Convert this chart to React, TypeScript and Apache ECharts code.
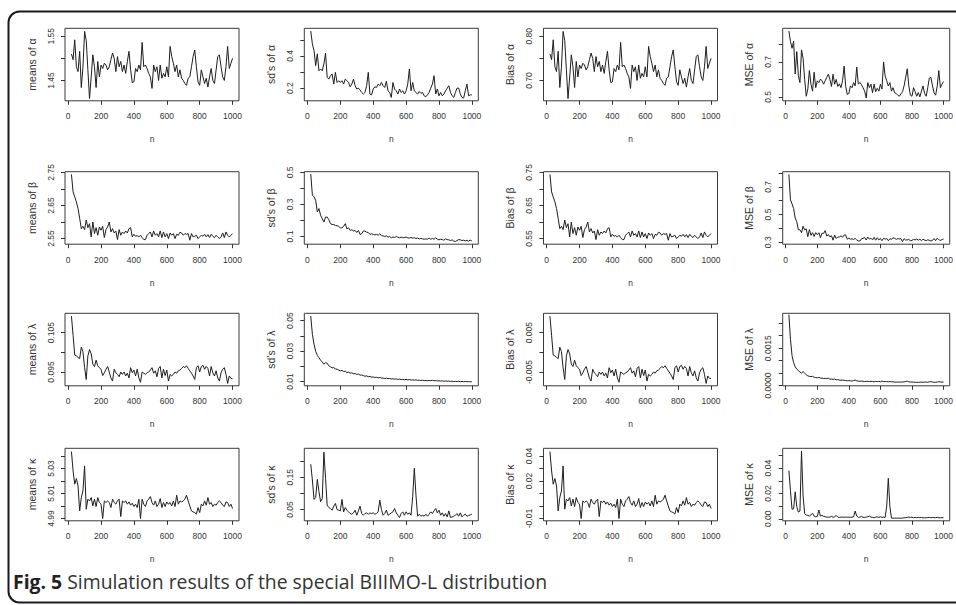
import React, { useEffect, useRef } from 'react';
import * as echarts from 'echarts';

const nValues = [20, 30, 40, 50, 60, 70, 80, 90, 100, 110, 120, 130, 140, 150, 160, 170, 180, 190, 200, 210, 220, 230, 240, 250, 260, 270, 280, 290, 300, 310, 320, 330, 340, 350, 360, 370, 380, 390, 400, 410, 420, 430, 440, 450, 460, 470, 480, 490, 500, 510, 520, 530, 540, 550, 560, 570, 580, 590, 600, 610, 620, 630, 640, 650, 660, 670, 680, 690, 700, 710, 720, 730, 740, 750, 760, 770, 780, 790, 800, 810, 820, 830, 840, 850, 860, 870, 880, 890, 900, 910, 920, 930, 940, 950, 960, 970, 980, 990, 1000];

const xTicks = [0, 200, 400, 600, 800, 1000];

const meansAlpha = [1.510, 1.497, 1.542, 1.481, 1.470, 1.516, 1.434, 1.480, 1.561, 1.540,
  1.474, 1.409, 1.458, 1.508, 1.481, 1.434, 1.493, 1.458, 1.485, 1.477,
  1.489, 1.485, 1.474, 1.481, 1.497, 1.512, 1.500, 1.470, 1.504, 1.481,
  1.493, 1.470, 1.485, 1.466, 1.493, 1.516, 1.474, 1.445, 1.447, 1.477,
  1.470, 1.485, 1.474, 1.536, 1.481, 1.485, 1.477, 1.466, 1.458, 1.432,
  1.485, 1.470, 1.481, 1.450, 1.485, 1.455, 1.466, 1.458, 1.481, 1.458,
  1.527, 1.504, 1.489, 1.470, 1.485, 1.458, 1.474, 1.455, 1.450, 1.443,
  1.439, 1.455, 1.458, 1.481, 1.504, 1.519, 1.481, 1.447, 1.439, 1.474,
  1.458, 1.443, 1.455, 1.435, 1.458, 1.477, 1.450, 1.443, 1.474, 1.504,
  1.508, 1.481, 1.458, 1.450, 1.481, 1.527, 1.477, 1.489, 1.500];

const sdAlpha = [0.555, 0.475, 0.433, 0.340, 0.413, 0.308, 0.319, 0.308, 0.350, 0.417,
  0.267, 0.256, 0.277, 0.288, 0.225, 0.298, 0.235, 0.246, 0.235, 0.246,
  0.225, 0.256, 0.246, 0.235, 0.208, 0.225, 0.256, 0.215, 0.194, 0.200,
  0.188, 0.173, 0.163, 0.173, 0.215, 0.298, 0.163, 0.158, 0.194, 0.208,
  0.204, 0.225, 0.215, 0.235, 0.215, 0.204, 0.242, 0.183, 0.173, 0.142,
  0.235, 0.194, 0.183, 0.163, 0.194, 0.173, 0.183, 0.163, 0.183, 0.225,
  0.319, 0.183, 0.235, 0.183, 0.173, 0.163, 0.179, 0.167, 0.173, 0.152,
  0.146, 0.158, 0.173, 0.200, 0.225, 0.277, 0.163, 0.194, 0.152, 0.173,
  0.152, 0.163, 0.183, 0.200, 0.215, 0.173, 0.152, 0.142, 0.173, 0.200,
  0.200, 0.163, 0.142, 0.138, 0.183, 0.225, 0.152, 0.158, 0.158];

const biasAlpha = [0.760, 0.747, 0.792, 0.731, 0.720, 0.766, 0.684, 0.730, 0.811, 0.790,
  0.724, 0.659, 0.708, 0.758, 0.731, 0.684, 0.743, 0.708, 0.735, 0.727,
  0.739, 0.735, 0.724, 0.731, 0.747, 0.762, 0.750, 0.720, 0.754, 0.731,
  0.743, 0.720, 0.735, 0.716, 0.743, 0.766, 0.724, 0.695, 0.697, 0.727,
  0.720, 0.735, 0.724, 0.786, 0.731, 0.735, 0.727, 0.716, 0.708, 0.682,
  0.735, 0.720, 0.731, 0.700, 0.735, 0.705, 0.716, 0.708, 0.731, 0.708,
  0.777, 0.754, 0.739, 0.720, 0.735, 0.708, 0.724, 0.705, 0.700, 0.693,
  0.689, 0.705, 0.708, 0.731, 0.754, 0.769, 0.731, 0.697, 0.689, 0.724,
  0.708, 0.693, 0.705, 0.685, 0.708, 0.727, 0.700, 0.693, 0.724, 0.754,
  0.758, 0.731, 0.708, 0.700, 0.731, 0.777, 0.727, 0.739, 0.750];

const mseAlpha = [0.876, 0.818, 0.778, 0.818, 0.631, 0.759, 0.622, 0.582, 0.769, 0.720,
  0.600, 0.504, 0.545, 0.651, 0.573, 0.533, 0.641, 0.553, 0.592, 0.582,
  0.602, 0.592, 0.573, 0.592, 0.612, 0.630, 0.600, 0.560, 0.630, 0.573,
  0.600, 0.560, 0.575, 0.553, 0.592, 0.676, 0.560, 0.514, 0.520, 0.563,
  0.553, 0.582, 0.563, 0.671, 0.573, 0.582, 0.570, 0.553, 0.533, 0.494,
  0.582, 0.553, 0.573, 0.524, 0.573, 0.530, 0.549, 0.533, 0.573, 0.545,
  0.700, 0.620, 0.592, 0.563, 0.582, 0.533, 0.553, 0.524, 0.520, 0.510,
  0.504, 0.518, 0.530, 0.563, 0.612, 0.661, 0.563, 0.510, 0.504, 0.553,
  0.530, 0.504, 0.525, 0.500, 0.533, 0.563, 0.520, 0.504, 0.553, 0.608,
  0.612, 0.563, 0.524, 0.510, 0.563, 0.651, 0.553, 0.573, 0.588];

const meansBeta = [2.744, 2.691, 2.676, 2.661, 2.641, 2.611, 2.580, 2.587, 2.577, 2.606,
  2.583, 2.595, 2.555, 2.600, 2.565, 2.583, 2.560, 2.585, 2.575, 2.587,
  2.553, 2.577, 2.585, 2.600, 2.570, 2.580, 2.567, 2.573, 2.547, 2.577,
  2.560, 2.570, 2.565, 2.573, 2.567, 2.580, 2.583, 2.555, 2.563, 2.557,
  2.559, 2.555, 2.560, 2.553, 2.547, 2.547, 2.560, 2.565, 2.570, 2.555,
  2.573, 2.560, 2.565, 2.555, 2.573, 2.553, 2.570, 2.555, 2.565, 2.550,
  2.567, 2.560, 2.565, 2.550, 2.563, 2.560, 2.569, 2.567, 2.560, 2.565,
  2.563, 2.565, 2.545, 2.565, 2.555, 2.557, 2.560, 2.550, 2.555, 2.560,
  2.557, 2.563, 2.555, 2.562, 2.553, 2.563, 2.557, 2.553, 2.560, 2.555,
  2.550, 2.555, 2.567, 2.553, 2.570, 2.560, 2.555, 2.560, 2.565];

const sdBeta = [0.490, 0.358, 0.347, 0.326, 0.253, 0.274, 0.232, 0.211, 0.190, 0.221,
  0.221, 0.205, 0.180, 0.175, 0.175, 0.169, 0.167, 0.163, 0.154, 0.154,
  0.163, 0.180, 0.148, 0.154, 0.138, 0.142, 0.134, 0.138, 0.125, 0.138,
  0.113, 0.117, 0.134, 0.134, 0.127, 0.125, 0.113, 0.117, 0.113, 0.110,
  0.113, 0.108, 0.117, 0.106, 0.104, 0.100, 0.104, 0.096, 0.100, 0.092,
  0.096, 0.094, 0.100, 0.096, 0.092, 0.096, 0.092, 0.094, 0.096, 0.092,
  0.090, 0.094, 0.090, 0.092, 0.088, 0.090, 0.085, 0.088, 0.085, 0.083,
  0.085, 0.083, 0.090, 0.083, 0.088, 0.083, 0.092, 0.083, 0.079, 0.083,
  0.081, 0.077, 0.085, 0.081, 0.079, 0.075, 0.079, 0.071, 0.069, 0.075,
  0.081, 0.079, 0.075, 0.077, 0.073, 0.075, 0.071, 0.077, 0.073];

const biasBeta = [0.744, 0.691, 0.676, 0.661, 0.641, 0.611, 0.580, 0.587, 0.577, 0.606,
  0.583, 0.595, 0.555, 0.600, 0.565, 0.583, 0.560, 0.585, 0.575, 0.587,
  0.553, 0.577, 0.585, 0.600, 0.570, 0.580, 0.567, 0.573, 0.547, 0.577,
  0.560, 0.570, 0.565, 0.573, 0.567, 0.580, 0.583, 0.555, 0.563, 0.557,
  0.559, 0.555, 0.560, 0.553, 0.547, 0.547, 0.560, 0.565, 0.570, 0.555,
  0.573, 0.560, 0.565, 0.555, 0.573, 0.553, 0.570, 0.555, 0.565, 0.550,
  0.567, 0.560, 0.565, 0.550, 0.563, 0.560, 0.569, 0.567, 0.560, 0.565,
  0.563, 0.565, 0.545, 0.565, 0.555, 0.557, 0.560, 0.550, 0.555, 0.560,
  0.557, 0.563, 0.555, 0.562, 0.553, 0.563, 0.557, 0.553, 0.560, 0.555,
  0.550, 0.555, 0.567, 0.553, 0.570, 0.560, 0.555, 0.560, 0.565];

const mseBeta = [0.790, 0.606, 0.577, 0.543, 0.475, 0.448, 0.390, 0.390, 0.369, 0.416,
  0.389, 0.396, 0.340, 0.391, 0.350, 0.369, 0.342, 0.369, 0.355, 0.369,
  0.333, 0.365, 0.364, 0.384, 0.344, 0.356, 0.339, 0.347, 0.315, 0.352,
  0.327, 0.339, 0.337, 0.346, 0.337, 0.352, 0.353, 0.322, 0.330, 0.322,
  0.325, 0.320, 0.328, 0.317, 0.310, 0.309, 0.325, 0.328, 0.335, 0.316,
  0.337, 0.323, 0.329, 0.317, 0.336, 0.315, 0.333, 0.317, 0.328, 0.311,
  0.329, 0.323, 0.327, 0.311, 0.325, 0.322, 0.331, 0.329, 0.321, 0.326,
  0.324, 0.326, 0.305, 0.326, 0.316, 0.317, 0.322, 0.309, 0.314, 0.321,
  0.317, 0.323, 0.315, 0.322, 0.312, 0.322, 0.316, 0.311, 0.318, 0.314,
  0.309, 0.314, 0.327, 0.312, 0.330, 0.319, 0.313, 0.319, 0.324];

const meansLambda = [0.1092, 0.1043, 0.0993, 0.0991, 0.0987, 0.0984, 0.1013, 0.1002, 0.0961, 0.0931,
  0.0991, 0.1007, 0.0996, 0.0970, 0.0964, 0.0980, 0.0966, 0.0961, 0.0957, 0.0941,
  0.0948, 0.0957, 0.0964, 0.0950, 0.0935, 0.0927, 0.0957, 0.0948, 0.0944, 0.0938,
  0.0950, 0.0944, 0.0950, 0.0940, 0.0947, 0.0935, 0.0961, 0.0948, 0.0955, 0.0940,
  0.0957, 0.0935, 0.0924, 0.0950, 0.0947, 0.0944, 0.0948, 0.0950, 0.0955, 0.0961,
  0.0947, 0.0953, 0.0938, 0.0959, 0.0964, 0.0935, 0.0957, 0.0941, 0.0955, 0.0927,
  0.0944, 0.0940, 0.0944, 0.0950, 0.0947, 0.0953, 0.0955, 0.0959, 0.0964, 0.0961,
  0.0966, 0.0959, 0.0953, 0.0947, 0.0940, 0.0931, 0.0961, 0.0966, 0.0950, 0.0964,
  0.0967, 0.0957, 0.0964, 0.0959, 0.0940, 0.0964, 0.0948, 0.0940, 0.0953, 0.0935,
  0.0927, 0.0948, 0.0957, 0.0961, 0.0944, 0.0921, 0.0940, 0.0934, 0.0933];

const sdLambda = [0.0530, 0.0410, 0.0345, 0.0298, 0.0272, 0.0256, 0.0240, 0.0228, 0.0214, 0.0224,
  0.0220, 0.0203, 0.0197, 0.0190, 0.0191, 0.0183, 0.0181, 0.0175, 0.0170, 0.0173,
  0.0166, 0.0167, 0.0160, 0.0161, 0.0155, 0.0157, 0.0151, 0.0152, 0.0147, 0.0149,
  0.0142, 0.0143, 0.0139, 0.0135, 0.0137, 0.0132, 0.0134, 0.0129, 0.0130, 0.0127,
  0.0128, 0.0124, 0.0127, 0.0123, 0.0122, 0.0120, 0.0122, 0.0119, 0.0120, 0.0117,
  0.0118, 0.0116, 0.0117, 0.0114, 0.0116, 0.0113, 0.0114, 0.0112, 0.0114, 0.0111,
  0.0113, 0.0110, 0.0111, 0.0109, 0.0111, 0.0108, 0.0109, 0.0107, 0.0109, 0.0106,
  0.0107, 0.0105, 0.0107, 0.0106, 0.0108, 0.0105, 0.0106, 0.0104, 0.0105, 0.0103,
  0.0104, 0.0102, 0.0104, 0.0102, 0.0103, 0.0101, 0.0102, 0.0100, 0.0101, 0.0100,
  0.0102, 0.0099, 0.0101, 0.0099, 0.0100, 0.0099, 0.0100, 0.0098, 0.0099];

const biasLambda = [0.0092, 0.0043, -0.0007, -0.0009, -0.0013, -0.0016, 0.0013, 0.0002, -0.0039, -0.0069,
  -0.0009, 0.0007, -0.0004, -0.0030, -0.0036, -0.0020, -0.0034, -0.0039, -0.0043, -0.0059,
  -0.0052, -0.0043, -0.0036, -0.0050, -0.0065, -0.0073, -0.0043, -0.0052, -0.0056, -0.0062,
  -0.0050, -0.0056, -0.0050, -0.0060, -0.0053, -0.0065, -0.0039, -0.0052, -0.0045, -0.0060,
  -0.0043, -0.0065, -0.0076, -0.0050, -0.0053, -0.0056, -0.0052, -0.0050, -0.0045, -0.0039,
  -0.0053, -0.0047, -0.0062, -0.0041, -0.0036, -0.0065, -0.0043, -0.0059, -0.0045, -0.0073,
  -0.0056, -0.0060, -0.0056, -0.0050, -0.0053, -0.0047, -0.0045, -0.0041, -0.0036, -0.0039,
  -0.0034, -0.0041, -0.0047, -0.0053, -0.0060, -0.0069, -0.0039, -0.0034, -0.0050, -0.0036,
  -0.0033, -0.0043, -0.0036, -0.0041, -0.0060, -0.0036, -0.0052, -0.0060, -0.0047, -0.0065,
  -0.0073, -0.0052, -0.0043, -0.0039, -0.0056, -0.0079, -0.0060, -0.0066, -0.0067];

const mseLambda = [0.00285, 0.00185, 0.00120, 0.00092, 0.00075, 0.00066, 0.00060, 0.00054, 0.00050, 0.00056,
  0.00050, 0.00043, 0.00039, 0.00037, 0.00036, 0.00037, 0.00033, 0.00032, 0.00031, 0.00033,
  0.00030, 0.00030, 0.00028, 0.00029, 0.00028, 0.00030, 0.00025, 0.00026, 0.00025, 0.00026,
  0.00023, 0.00024, 0.00022, 0.00021, 0.00022, 0.00021, 0.00020, 0.00019, 0.00020, 0.00019,
  0.00018, 0.00020, 0.00022, 0.00019, 0.00018, 0.00017, 0.00018, 0.00017, 0.00016, 0.00017,
  0.00017, 0.00016, 0.00017, 0.00016, 0.00015, 0.00017, 0.00016, 0.00017, 0.00015, 0.00018,
  0.00016, 0.00016, 0.00016, 0.00015, 0.00016, 0.00015, 0.00015, 0.00014, 0.00014, 0.00014,
  0.00014, 0.00014, 0.00014, 0.00015, 0.00016, 0.00018, 0.00015, 0.00014, 0.00014, 0.00014,
  0.00013, 0.00013, 0.00013, 0.00013, 0.00014, 0.00013, 0.00014, 0.00014, 0.00013, 0.00015,
  0.00016, 0.00014, 0.00013, 0.00013, 0.00014, 0.00016, 0.00014, 0.00014, 0.00014];

const meansKappa = [5.0436, 5.0281, 5.0175, 5.0220, 5.0161, 4.9961, 5.0068, 5.0121, 5.0321, 4.9975,
  5.0055, 5.0041, 5.0068, 5.0001, 5.0055, 4.9996, 5.0068, 5.0028, 5.0015, 4.9900,
  5.0041, 5.0028, 5.0041, 5.0028, 4.9988, 5.0055, 5.0028, 5.0015, 5.0041, 5.0055,
  4.9916, 5.0041, 5.0028, 5.0041, 5.0015, 5.0033, 5.0007, 5.0023, 4.9996, 5.0015,
  4.9988, 5.0055, 4.9900, 5.0055, 5.0015, 4.9996, 5.0041, 5.0055, 5.0076, 5.0028,
  5.0007, 5.0041, 4.9996, 5.0015, 5.0060, 4.9988, 5.0028, 4.9996, 5.0033, 5.0015,
  5.0028, 5.0001, 5.0041, 4.9996, 5.0087, 5.0015, 5.0041, 5.0033, 5.0041, 5.0055,
  5.0087, 5.0041, 5.0001, 4.9961, 4.9953, 4.9948, 4.9935, 4.9988, 4.9948, 5.0015,
  5.0001, 5.0041, 5.0007, 5.0068, 5.0015, 5.0028, 4.9996, 5.0015, 5.0007, 5.0028,
  5.0041, 5.0028, 5.0007, 4.9996, 5.0033, 5.0028, 4.9996, 5.0015, 4.9980];

const sdKappa = [0.1906, 0.1417, 0.0813, 0.0875, 0.1437, 0.1052, 0.0740, 0.0844, 0.2281, 0.1469,
  0.0635, 0.0563, 0.0531, 0.0479, 0.0604, 0.0688, 0.0500, 0.0479, 0.0458, 0.0813,
  0.0427, 0.0563, 0.0479, 0.0427, 0.0375, 0.0354, 0.0396, 0.0479, 0.0323, 0.0458,
  0.0604, 0.0375, 0.0323, 0.0375, 0.0396, 0.0354, 0.0396, 0.0375, 0.0396, 0.0354,
  0.0375, 0.0427, 0.0792, 0.0500, 0.0323, 0.0375, 0.0479, 0.0323, 0.0354, 0.0396,
  0.0427, 0.0531, 0.0396, 0.0323, 0.0250, 0.0375, 0.0427, 0.0323, 0.0427, 0.0354,
  0.0396, 0.0323, 0.0896, 0.1781, 0.0948, 0.0292, 0.0354, 0.0292, 0.0323, 0.0292,
  0.0354, 0.0292, 0.0354, 0.0427, 0.0375, 0.0458, 0.0531, 0.0396, 0.0479, 0.0323,
  0.0396, 0.0292, 0.0375, 0.0271, 0.0458, 0.0250, 0.0271, 0.0292, 0.0323, 0.0375,
  0.0292, 0.0396, 0.0271, 0.0323, 0.0354, 0.0292, 0.0313, 0.0333, 0.0354];

const biasKappa = [0.0436, 0.0281, 0.0175, 0.0220, 0.0161, -0.0039, 0.0068, 0.0121, 0.0321, -0.0025,
  0.0055, 0.0041, 0.0068, 0.0001, 0.0055, -0.0004, 0.0068, 0.0028, 0.0015, -0.0100,
  0.0041, 0.0028, 0.0041, 0.0028, -0.0012, 0.0055, 0.0028, 0.0015, 0.0041, 0.0055,
  -0.0084, 0.0041, 0.0028, 0.0041, 0.0015, 0.0033, 0.0007, 0.0023, -0.0004, 0.0015,
  -0.0012, 0.0055, -0.0100, 0.0055, 0.0015, -0.0004, 0.0041, 0.0055, 0.0076, 0.0028,
  0.0007, 0.0041, -0.0004, 0.0015, 0.0060, -0.0012, 0.0028, -0.0004, 0.0033, 0.0015,
  0.0028, 0.0001, 0.0041, -0.0004, 0.0087, 0.0015, 0.0041, 0.0033, 0.0041, 0.0055,
  0.0087, 0.0041, 0.0001, -0.0039, -0.0047, -0.0052, -0.0065, -0.0012, -0.0052, 0.0015,
  0.0001, 0.0041, 0.0007, 0.0068, 0.0015, 0.0028, -0.0004, 0.0015, 0.0007, 0.0028,
  0.0041, 0.0028, 0.0007, -0.0004, 0.0033, 0.0028, -0.0004, 0.0015, -0.0020];

const mseKappa = [0.0381, 0.0221, 0.0075, 0.0080, 0.0213, 0.0096, 0.0053, 0.0061, 0.0536, 0.0181,
  0.0040, 0.0029, 0.0027, 0.0021, 0.0032, 0.0043, 0.0021, 0.0016, 0.0019, 0.0069,
  0.0021, 0.0027, 0.0019, 0.0016, 0.0013, 0.0013, 0.0013, 0.0019, 0.0011, 0.0016,
  0.0027, 0.0013, 0.0011, 0.0013, 0.0013, 0.0012, 0.0013, 0.0012, 0.0013, 0.0012,
  0.0013, 0.0015, 0.0061, 0.0021, 0.0011, 0.0013, 0.0019, 0.0011, 0.0011, 0.0013,
  0.0016, 0.0021, 0.0013, 0.0011, 0.0008, 0.0013, 0.0016, 0.0011, 0.0016, 0.0011,
  0.0013, 0.0011, 0.0101, 0.0320, 0.0096, 0.0005, 0.0005, 0.0005, 0.0005, 0.0005,
  0.0005, 0.0005, 0.0005, 0.0008, 0.0008, 0.0011, 0.0013, 0.0011, 0.0013, 0.0008,
  0.0011, 0.0008, 0.0011, 0.0008, 0.0011, 0.0007, 0.0008, 0.0008, 0.0009, 0.0011,
  0.0008, 0.0011, 0.0008, 0.0009, 0.0011, 0.0008, 0.0008, 0.0009, 0.0008];

const panelTitles = [
  "means of \u03b1", "sd's of \u03b1", "Bias of \u03b1", "MSE of \u03b1",
  "means of \u03b2", "sd's of \u03b2", "Bias of \u03b2", "MSE of \u03b2",
  "means of \u03bb", "sd's of \u03bb", "Bias of \u03bb", "MSE of \u03bb",
  "means of \u03ba", "sd's of \u03ba", "Bias of \u03ba", "MSE of \u03ba",
];
const panelValues = [
  meansAlpha, sdAlpha, biasAlpha, mseAlpha,
  meansBeta, sdBeta, biasBeta, mseBeta,
  meansLambda, sdLambda, biasLambda, mseLambda,
  meansKappa, sdKappa, biasKappa, mseKappa,
];
const yRanges = [
  [1.404, 1.568], [0.121, 0.572], [0.654, 0.818], [0.478, 0.892],
  [2.533, 2.752], [0.052, 0.504], [0.533, 0.752], [0.286, 0.809],
  [0.0915, 0.1099], [0.0072, 0.0548], [-0.0085, 0.0099], [-0.00001, 0.0029],
  [4.9882, 5.0462], [0.015, 0.240], [-0.0118, 0.0462], [-0.0016, 0.0557],
];
const yTicks = [
  [1.45, 1.5, 1.55], [0.2, 0.3, 0.4, 0.5], [0.7, 0.75, 0.8], [0.5, 0.6, 0.7, 0.8],
  [2.55, 2.6, 2.65, 2.7, 2.75], [0.1, 0.2, 0.3, 0.4, 0.5], [0.55, 0.6, 0.65, 0.7, 0.75], [0.3, 0.4, 0.5, 0.6, 0.7, 0.8],
  [0.095, 0.1, 0.105], [0.01, 0.02, 0.03, 0.04, 0.05], [-0.005, 0, 0.005], [0, 0.0005, 0.001, 0.0015, 0.002, 0.0025],
  [4.99, 5.0, 5.01, 5.02, 5.03, 5.04], [0.05, 0.1, 0.15, 0.2], [-0.01, 0, 0.01, 0.02, 0.03, 0.04], [0, 0.01, 0.02, 0.03, 0.04, 0.05],
];
const yLabels = [
  [1.45, 1.55], [0.2, 0.4], [0.7, 0.8], [0.5, 0.7],
  [2.55, 2.65, 2.75], [0.1, 0.3, 0.5], [0.55, 0.65, 0.75], [0.3, 0.5, 0.7],
  [0.095, 0.105], [0.01, 0.03, 0.05], [-0.005, 0.005], [0, 0.0015],
  [4.99, 5.01, 5.03], [0.05, 0.15], [-0.01, 0.02, 0.04], [0, 0.02, 0.04],
];
const yDecimals = [2, 1, 2, 1, 2, 1, 2, 1, 3, 2, 3, 4, 2, 2, 2, 2];

const captionBold = 'Fig. 5';
const captionText = 'Simulation results of the special BIIIMO-L distribution';

// layout
const colLeft = [65, 304.3, 543.5, 782.7];
const rowTop = [28.3, 171.7, 313.3, 448.3];
const boxW = 174;
const boxH = 72.5;
const xMin = -19.2;
const xMax = 1039.2;

const FONT = '"Liberation Sans", Arial, sans-serif';
const INK = '#333';

export default function App() {
  const ref = useRef<HTMLDivElement>(null);

  useEffect(() => {
    if (!ref.current) return;
    const chart = echarts.init(ref.current, undefined, { renderer: 'svg' });

    const grids: any[] = [];
    const xAxes: any[] = [];
    const yAxes: any[] = [];
    const series: any[] = [];

    panelTitles.forEach((title, i) => {
      const r = Math.floor(i / 4);
      const c = i % 4;
      grids.push({
        left: colLeft[c], top: rowTop[r], width: boxW, height: boxH,
        show: true, borderColor: '#3a3a3a', borderWidth: 1, backgroundColor: 'transparent',
        containLabel: false,
      });
      xAxes.push({
        gridIndex: i, type: 'value', min: xMin, max: xMax, position: 'bottom',
        axisLine: { show: false, onZero: false },
        splitLine: { show: false },
        axisTick: { show: true, length: 4, customValues: xTicks, lineStyle: { color: INK, width: 1 } },
        axisLabel: {
          show: true, customValues: xTicks, margin: 11, fontSize: 8.5, color: INK, fontFamily: FONT,
          formatter: (v: number) => String(v),
        },
        name: 'n', nameLocation: 'middle', nameGap: 34, nameMoveOverlap: false,
        nameTextStyle: { fontSize: 8.5, color: INK, fontFamily: FONT },
      });
      const dec = yDecimals[i];
      yAxes.push({
        gridIndex: i, type: 'value', min: yRanges[i][0], max: yRanges[i][1], position: 'left',
        axisLine: { show: false, onZero: false },
        splitLine: { show: false },
        axisTick: { show: true, length: 4, customValues: yTicks[i], lineStyle: { color: INK, width: 1 } },
        axisLabel: {
          show: true, customValues: yLabels[i], rotate: 90, margin: 10, fontSize: 8.5, color: INK, fontFamily: FONT,
          formatter: (v: number) => v.toFixed(dec),
        },
        name: title, nameLocation: 'middle', nameRotate: 90, nameGap: 28, nameMoveOverlap: false,
        nameTextStyle: { fontSize: 10.5, color: INK, fontFamily: FONT },
      });
      const vals = panelValues[i];
      series.push({
        type: 'line', xAxisIndex: i, yAxisIndex: i,
        data: nValues.map((n, k) => [n, vals[k]]),
        showSymbol: false, symbol: 'none', silent: true,
        lineStyle: { color: '#1e1e1e', width: 1 },
      });
    });

    chart.setOption({
      animation: false,
      backgroundColor: '#ffffff',
      grid: grids,
      xAxis: xAxes,
      yAxis: yAxes,
      series,
      graphic: [
        {
          type: 'rect', silent: true,
          shape: { x: 8.5, y: 11.5, width: 1000, height: 591, r: 11 },
          style: { fill: 'none', stroke: '#1a1a1a', lineWidth: 2 },
        },
        {
          type: 'text', silent: true, x: 13, y: 581,
          style: {
            text: '{b|' + captionBold + '} ' + captionText,
            fontSize: 19.4, fontFamily: '"Open Sans", sans-serif', fill: '#333',
            verticalAlign: 'middle',
            rich: { b: { fontSize: 19.4, fontWeight: 'bold', fontFamily: '"Open Sans", sans-serif', fill: '#222' } },
          },
        },
      ],
    });

    return () => chart.dispose();
  }, []);

  return (
    <div
      ref={ref}
      style={{ position: 'absolute', left: 0, top: 0, width: 956, height: 605, background: '#fff' }}
    />
  );
}
